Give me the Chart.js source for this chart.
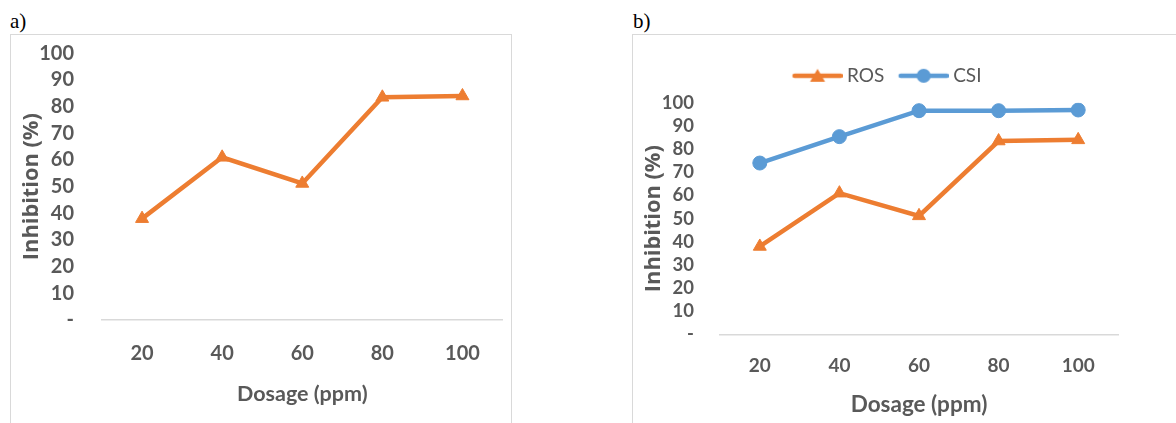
<!DOCTYPE html>
<html>
<head>
<meta charset="utf-8">
<script src="https://cdn.jsdelivr.net/npm/chart.js@4.4.1/dist/chart.umd.min.js"></script>
<style>
  html, body { margin:0; padding:0; background:#fff; width:1176px; height:423px; overflow:hidden; }
  .tag { position:absolute; font-family:"Liberation Serif","Times New Roman",serif; font-size:21px; line-height:21px; color:#000; }
  .panel { position:absolute; top:34px; height:420px; border:1px solid #d9d9d9; box-sizing:border-box; background:#fff; }
  .panel canvas { position:absolute; left:0; top:0; }
</style>
</head>
<body>
<div class="tag" style="left:10px; top:11px;">a)</div>
<div class="tag" style="left:633px; top:11px;">b)</div>
<div class="panel" style="left:10px; width:502px;"><canvas id="chartA" width="500" height="388"></canvas></div>
<div class="panel" style="left:632px; width:560px;"><canvas id="chartB" width="543" height="388"></canvas></div>

<script>
// ====== data ======
const dosage  = ['20', '40', '60', '80', '100'];
const rosVals = [38, 61, 51.2, 83.5, 84];
const csiVals = [74, 85.4, 96.6, 96.6, 96.9];
const yTicks  = [0, 10, 20, 30, 40, 50, 60, 70, 80, 90, 100];

// ====== helpers ======
const ORANGE = '#ED7D31', BLUE = '#5B9BD5', GREY = '#595959', AXIS = '#d9d9d9';
const FONT = 'Lato, "Open Sans", sans-serif';
const YFONT = '"Open Sans", Lato, sans-serif';
const tickLbl = (v) => v === 0 ? '-' : v;

// legend icon: line with the marker in the middle (Excel style)
function legendIcon(color, style){
  const c = document.createElement('canvas');
  c.width = 59; c.height = 16;
  const g = c.getContext('2d');
  g.strokeStyle = color; g.fillStyle = color;
  g.lineWidth = 4.5; g.lineCap = 'round';
  g.beginPath(); g.moveTo(11, 8); g.lineTo(57, 8); g.stroke();
  g.beginPath();
  if(style === 'triangle'){ g.moveTo(34, 1); g.lineTo(41.5, 14); g.lineTo(26.5, 14); g.closePath(); }
  else { g.arc(34, 8, 7, 0, Math.PI*2); }
  g.fill();
  return c;
}

const rosSet = () => ({
  label: 'ROS', data: rosVals,
  borderColor: ORANGE, backgroundColor: ORANGE, borderWidth: 4.5,
  pointStyle: 'triangle', pointRadius: 7.5, pointBorderWidth: 1, pointBackgroundColor: ORANGE, pointBorderColor: ORANGE,
  tension: 0
});

// o.top = where the 100 tick sits inside the canvas (0 = let boxes decide)
function scales(o){
  return {
    x: {
      type: 'category', offset: true,
      grid: { display: false, drawTicks: false },
      border: { display: true, color: AXIS, width: 1.5 },
      ticks: { color: GREY, padding: o.xPad, autoSkip: false, maxRotation: 0, font: { family: FONT, weight: 'bold', size: o.xTick } },
      title: { display: true, text: 'Dosage (ppm)', color: GREY, padding: { top: 0, bottom: o.xTitlePad },
               font: { family: FONT, weight: 'bold', size: o.xTitle } },
      afterFit: (s) => { s.height = o.xH; }
    },
    y: {
      min: 0, max: 100,
      afterBuildTicks: (s) => { s.ticks = yTicks.map(v => ({ value: v })); },
      grid: { display: false, drawTicks: false },
      border: { display: false },
      ticks: { color: GREY, padding: o.yPad, autoSkip: false, callback: tickLbl, font: { family: FONT, weight: 'bold', size: o.yTick } },
      title: { display: true, text: 'Inhibition (%)', color: GREY, padding: { top: o.yTitlePad, bottom: 0 },
               font: { family: YFONT, weight: 'bold', size: 21.8 } },
      afterFit: (s) => { s.width = o.yW; s.paddingTop = o.top; s.paddingBottom = 0; }
    }
  };
}

// ====== a) ======
new Chart(document.getElementById('chartA'), {
  type: 'line',
  data: { labels: dosage, datasets: [ rosSet() ] },
  options: {
    responsive: false, animation: false,
    layout: { padding: { top: 0, right: 8, bottom: 0, left: 0 } },
    plugins: { legend: { display: false }, tooltip: { enabled: false } },
    scales: scales({ top: 18.3, xPad: 22, xTick: 20, xTitle: 21.5, xTitlePad: 16, xH: 103,
                     yPad: 28, yTick: 20, yTitlePad: 7.9, yW: 91 })
  }
});

// ====== b) ======
const icons = [legendIcon(ORANGE, 'triangle'), legendIcon(BLUE, 'circle')];
new Chart(document.getElementById('chartB'), {
  type: 'line',
  data: {
    labels: dosage,
    datasets: [
      rosSet(),
      { label: 'CSI', data: csiVals,
        borderColor: BLUE, backgroundColor: BLUE, borderWidth: 4.5,
        pointStyle: 'circle', pointRadius: 7, pointBorderWidth: 1, pointBackgroundColor: BLUE, pointBorderColor: BLUE,
        tension: 0 }
    ]
  },
  options: {
    responsive: false, animation: false,
    layout: { padding: { top: 21, right: 58, bottom: 0, left: 19 } },
    plugins: {
      tooltip: { enabled: false },
      // empty title used only as a gap between legend and plot
      title: { display: true, text: '', position: 'top', weight: 500, font: { size: 1 }, padding: { top: 0, bottom: 6.3 } },
      legend: {
        position: 'top',
        labels: {
          usePointStyle: true, pointStyleWidth: 49, padding: 10.3,
          color: GREY, font: { family: FONT, size: 19 },
          generateLabels: (ch) => Chart.defaults.plugins.legend.labels.generateLabels(ch)
                                    .map((it, i) => Object.assign(it, { pointStyle: icons[i] }))
        }
      }
    },
    scales: scales({ top: 0, xPad: 20, xTick: 19, xTitle: 22.5, xTitlePad: 5, xH: 88.5,
                     yPad: 26, yTick: 18.5, yTitlePad: -11.1, yW: 68 })
  }
});
</script>
</body>
</html>
